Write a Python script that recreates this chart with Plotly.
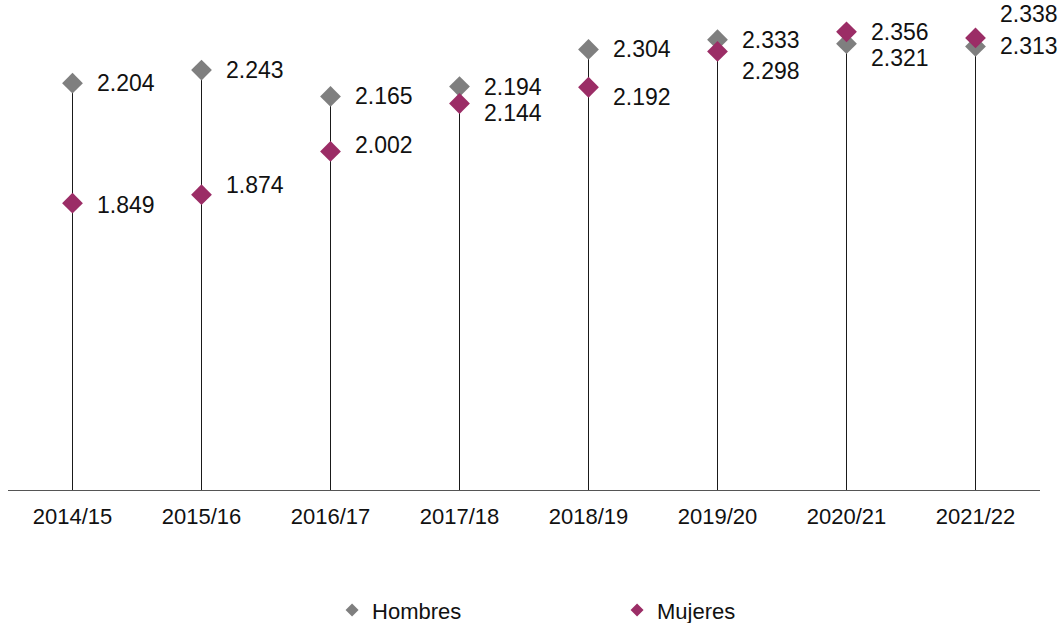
import plotly.graph_objects as go

categories = ["2014/15", "2015/16", "2016/17", "2017/18", "2018/19", "2019/20", "2020/21", "2021/22"]
hombres = [2.204, 2.243, 2.165, 2.194, 2.304, 2.333, 2.321, 2.313]
mujeres = [1.849, 1.874, 2.002, 2.144, 2.192, 2.298, 2.356, 2.338]

# label vertical offsets (px) to avoid overlaps (style only)
h_shift = [0, 0, 0, 0, 0, 0, -14, 0]
m_shift = [-2, 10, 6, -10, -10, -20, 0, 24]

GRAY = "#7f7f7f"
PURPLE = "#9b2d66"
FONT = "Liberation Sans, Arial, sans-serif"
BASE = 1.0

fig = go.Figure()

# stems
xs, ys = [], []
for c, h, m in zip(categories, hombres, mujeres):
    xs += [c, c, None]
    ys += [BASE, max(h, m), None]
fig.add_trace(go.Scatter(x=xs, y=ys, mode="lines", line=dict(color="#1a1a1a", width=1),
                         showlegend=False, hoverinfo="skip"))

fig.add_trace(go.Scatter(x=categories, y=hombres, mode="markers", name="Hombres",
                         marker=dict(symbol="diamond", size=16, color=GRAY), showlegend=False))
fig.add_trace(go.Scatter(x=categories, y=mujeres, mode="markers", name="Mujeres",
                         marker=dict(symbol="diamond", size=16, color=PURPLE), showlegend=False))
# legend entries
fig.add_trace(go.Scatter(x=[None], y=[None], mode="markers", name="Hombres",
                         marker=dict(symbol="diamond", size=10, color=GRAY)))
fig.add_trace(go.Scatter(x=[None], y=[None], mode="markers", name="Mujeres",
                         marker=dict(symbol="diamond", size=10, color=PURPLE)))

annotations = []
for c, v, s in zip(categories, hombres, h_shift):
    annotations.append(dict(x=c, y=v, text=f"{v:.3f}", showarrow=False, xanchor="left",
                            xshift=22, yshift=s, font=dict(size=23, color="#111111", family=FONT)))
for c, v, s in zip(categories, mujeres, m_shift):
    annotations.append(dict(x=c, y=v, text=f"{v:.3f}", showarrow=False, xanchor="left",
                            xshift=22, yshift=s, font=dict(size=23, color="#111111", family=FONT)))

fig.update_layout(
    width=1063, height=623,
    margin=dict(l=8, r=23, t=17, b=133, autoexpand=False),
    paper_bgcolor="white", plot_bgcolor="white",
    font=dict(family=FONT, size=22, color="#111111"),
    annotations=annotations,
    showlegend=True,
    legend=dict(orientation="h", x=0.314, xanchor="left", y=-0.254, yanchor="middle",
                entrywidth=240, entrywidthmode="pixels", font=dict(size=22),
                itemclick=False),
    xaxis=dict(type="category", categoryorder="array", categoryarray=categories,
               range=[-0.5, len(categories) - 0.5], showline=True, linecolor="#555555",
               linewidth=1, showgrid=False, zeroline=False, ticks="", ticklen=0,
               ticklabelstandoff=7, tickfont=dict(size=22)),
    yaxis=dict(range=[1.0, 2.4], visible=False, showgrid=False, zeroline=False),
)

fig.write_html("out.html", config={"displayModeBar": False},
               post_script="document.body.style.margin='0';document.body.style.overflow='hidden';")
